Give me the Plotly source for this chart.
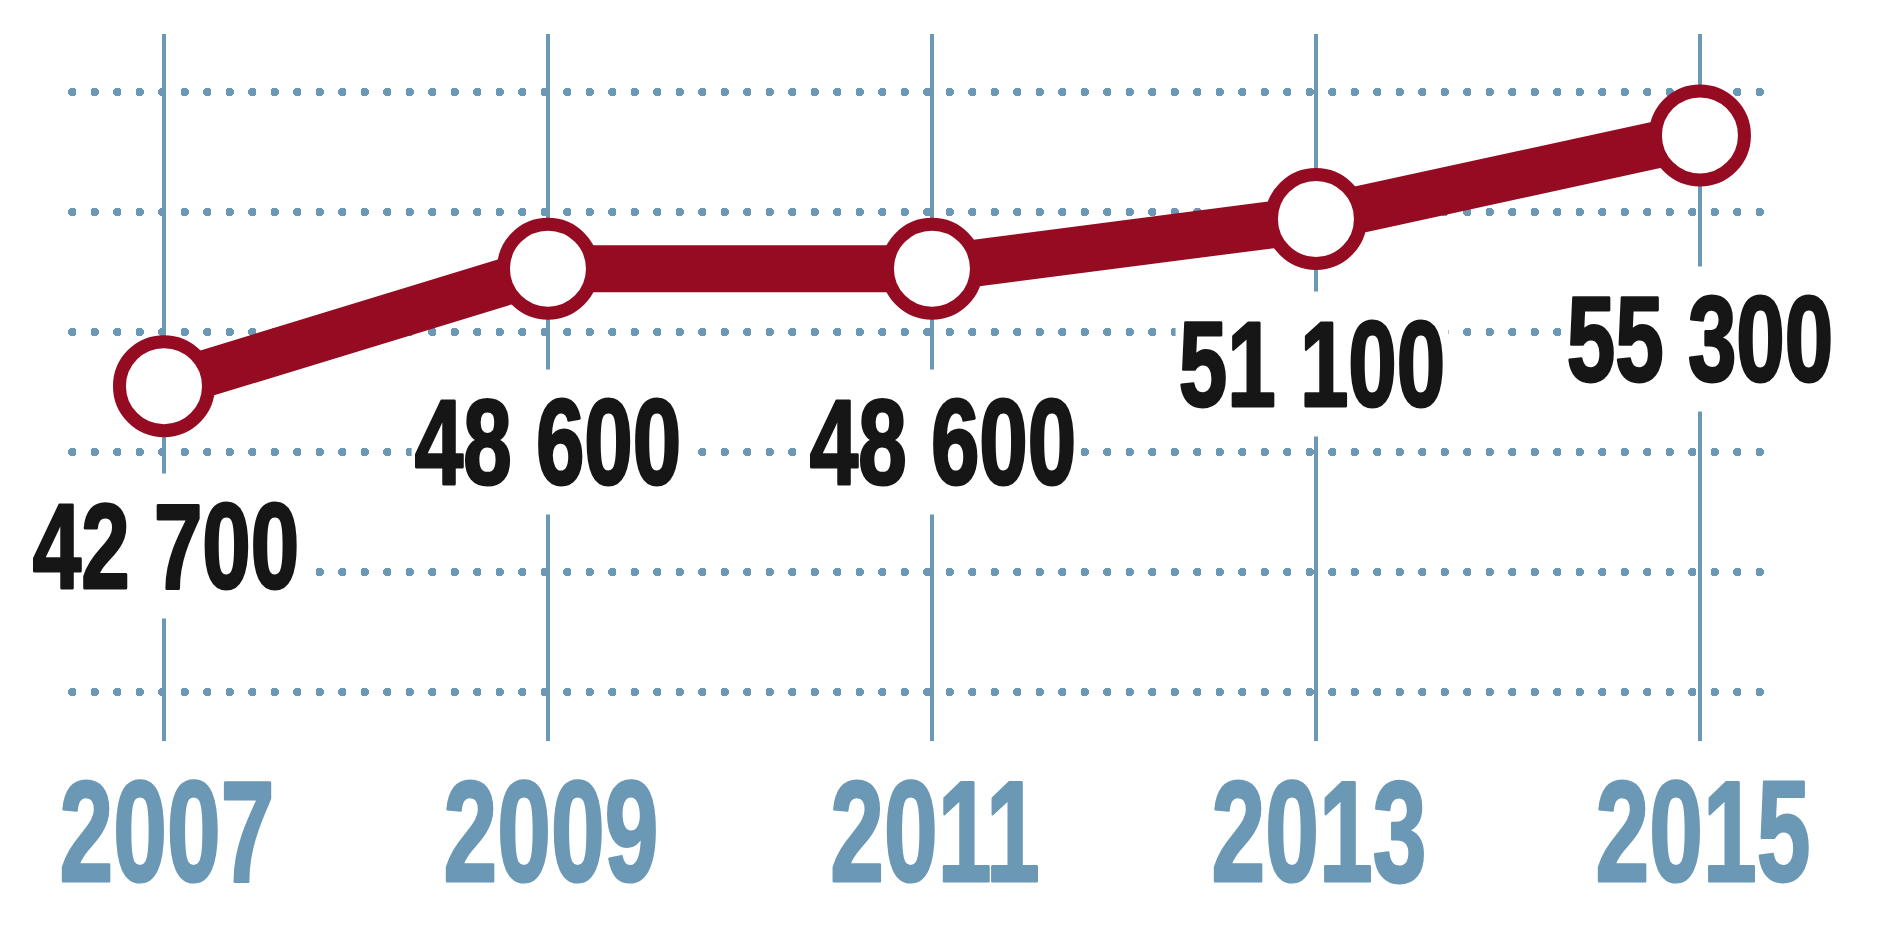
import plotly.graph_objects as go

years = [2007, 2009, 2011, 2013, 2015]
values = [42700, 48600, 48600, 51100, 55300]
value_labels = ["42 700", "48 600", "48 600", "51 100", "55 300"]
year_labels = ["2007", "2009", "2011", "2013", "2015"]

RED = "#940B22"
BLUE = "#6B98B5"
INK = "#161616"
FONT = "'Liberation Sans', Arial, sans-serif"

fig = go.Figure()
fig.add_trace(go.Scatter(
    x=years, y=values, mode="lines+markers",
    line=dict(color=RED, width=47),
    marker=dict(size=89, color="white", line=dict(color=RED, width=13)),
    hoverinfo="skip", showlegend=False,
))

# value labels
label_yshift = [-160, -173, -173, -145, -204]
label_xshift = [2, 0, 11, -4, 0]
for x, y, t, ys, xs in zip(years, values, value_labels, label_yshift, label_xshift):
    fig.add_annotation(
        x=x, y=y, text=t, showarrow=False, xanchor="center", yanchor="middle",
        yshift=ys, xshift=xs, bgcolor="white", borderpad=4,
        font=dict(family=FONT, size=121, color=INK, weight="bold"),
    )

# year labels (axis labels)
for x, t in zip(years, year_labels):
    fig.add_annotation(
        x=x, y=0, xref="x", yref="paper", text=t, showarrow=False,
        xanchor="center", yanchor="middle", yshift=-90, xshift=3,
        font=dict(family=FONT, size=142, color=BLUE, weight="bold"),
    )

fig.update_xaxes(
    range=[2006.521, 2015.417], tickvals=years,
    showgrid=True, gridcolor=BLUE, gridwidth=4, zeroline=False, showline=False,
    ticks="", showticklabels=False,
)
fig.update_yaxes(
    range=[24868, 60396], tick0=45421, dtick=6030, tickmode="linear",
    showgrid=True, gridcolor=BLUE, gridwidth=8, griddash="0.5px,22px",
    zeroline=False, showline=False, showticklabels=False, ticks="",
)
fig.update_layout(
    width=1880, height=934,
    margin=dict(l=72, r=100, t=34, b=193, pad=0),
    paper_bgcolor="white", plot_bgcolor="white",
)

n = len(value_labels)
val_sel = ",".join(f'.annotation[data-index="{i}"] .annotation-text, .annotation[data-index="{i}"] rect.bg' for i in range(n))
yr_sel = ",".join(f'.annotation[data-index="{i}"] .annotation-text' for i in range(n, n + len(year_labels)))
css = (
    ".annotation-text, .annotation rect.bg {transform-box: fill-box; transform-origin: center;}"
    + val_sel + "{transform: scaleX(0.72);}"
    + yr_sel + "{transform: scaleX(0.68);}"
    + ".annotation-text {stroke-width: 3px; stroke-linejoin: round;}"
    + ",".join(f'.annotation[data-index="{i}"] .annotation-text' for i in range(n)) + "{stroke:" + INK + ";}"
    + yr_sel + "{stroke:" + BLUE + ";}"
    + "path.ygrid {stroke-linecap: round !important;}"
)
post = (
    "var s = document.createElement('style');\n"
    f"s.textContent = {css!r};\n"
    "document.head.appendChild(s);\n"
    "document.body.style.margin = '0';\n"
)
fig.write_html("out.html", config={"displayModeBar": False}, post_script=post)
